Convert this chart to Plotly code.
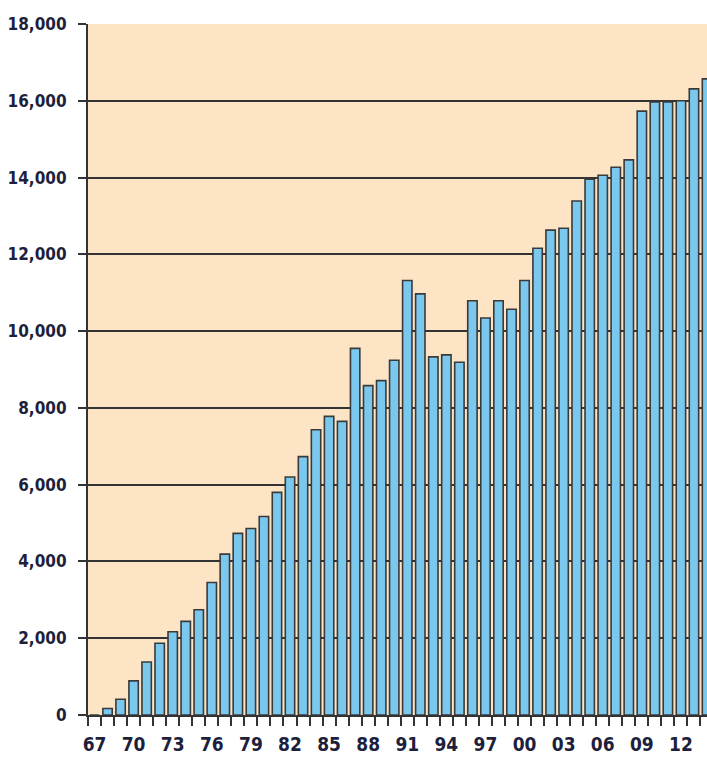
import plotly.graph_objects as go

years = list(range(1967, 2015))
values = [
    0, 170, 410, 890, 1380, 1870, 2170, 2440, 2740, 3450,
    4190, 4730, 4860, 5170, 5800, 6200, 6730, 7430, 7780, 7650,
    9550, 8580, 8710, 9240, 11320, 10970, 9330, 9380, 9190, 10790,
    10340, 10790, 10570, 11320, 12160, 12630, 12680, 13390, 13960, 14060,
    14270, 14460, 15730, 15970, 15970, 16000, 16310, 16570,
]
x_tick_vals = list(range(1967, 2013, 3))
x_tick_text = [str(y)[2:] for y in x_tick_vals]
y_tick_vals = list(range(0, 18001, 2000))
y_tick_text = [f"{v:,}" for v in y_tick_vals]

font_family = "DejaVu Sans Condensed, Liberation Sans Narrow, Liberation Sans, sans-serif"
ink = "#333333"
label_color = "#1d1f3d"

fig = go.Figure(go.Bar(
    x=years, y=values, width=0.72,
    marker=dict(color="#7bc8ef", line=dict(color="#3a3a3a", width=1.6)),
))

fig.update_layout(
    width=707, height=757,
    margin=dict(l=88, r=0, t=24, b=42),
    paper_bgcolor="white",
    plot_bgcolor="#fce4c4",
    showlegend=False,
    font=dict(family=font_family, size=18, color=label_color),
)

fig.update_xaxes(
    range=[1966.5, 2014.0],
    tickmode="array", tickvals=x_tick_vals, ticktext=x_tick_text,
    ticks="outside", ticklen=11, tickcolor="rgba(0,0,0,0)",
    showgrid=False, zeroline=False,
    showline=True, linecolor=ink, linewidth=2,
    minor=dict(tickmode="linear", tick0=1966.5, dtick=1, ticks="outside",
               ticklen=9, tickwidth=1.5, tickcolor=ink, showgrid=False),
    tickfont=dict(family=font_family, size=19, color=label_color, weight="bold"),
)

fig.update_yaxes(
    range=[0, 18000],
    tickmode="array", tickvals=y_tick_vals, ticktext=y_tick_text,
    ticks="outside", ticklen=8, tickwidth=1.5, tickcolor=ink,
    ticklabelstandoff=8,
    showgrid=True, gridcolor=ink, gridwidth=1.5,
    zeroline=False,
    showline=True, linecolor=ink, linewidth=2,
    tickfont=dict(family=font_family, size=17, color=label_color, weight="bold"),
)

# page body has a default 8px margin; drop it so the figure fills the window
fig.write_html("out.html", config={"displayModeBar": False},
               post_script="document.body.style.margin='0';")
